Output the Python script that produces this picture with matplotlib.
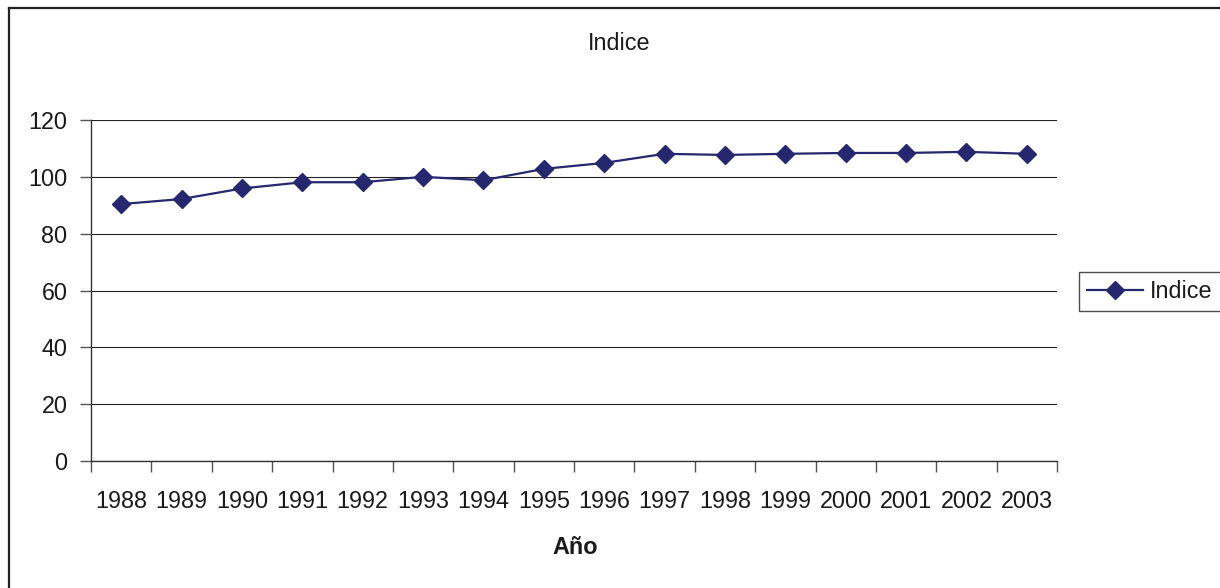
import matplotlib
matplotlib.use("Agg")
import matplotlib.pyplot as plt
from matplotlib.lines import Line2D

years = ["1988", "1989", "1990", "1991", "1992", "1993", "1994", "1995",
         "1996", "1997", "1998", "1999", "2000", "2001", "2002", "2003"]
indice = [90.4, 92.2, 95.9, 98.1, 98.1, 100.0, 98.8, 102.8,
          104.9, 108.1, 107.7, 108.1, 108.4, 108.4, 108.8, 108.1]

plt.rcParams['font.family'] = ['Liberation Sans', 'DejaVu Sans']
FS = 16.8

W, H = 1220, 588
fig = plt.figure(figsize=(W / 100, H / 100), dpi=100)
ax = fig.add_axes([91 / W, 1 - 461 / H, (1057 - 91) / W, (461 - 120) / H])

line_color = '#25286E'
text_color = '#1a1a1a'
x = list(range(len(years)))
ax.plot(x, indice, color=line_color, linewidth=1.6, marker='D',
        markersize=9.5, markerfacecolor=line_color, markeredgecolor=line_color,
        label='Indice', zorder=3)

ax.set_xlim(-0.5, len(years) - 0.5)
ax.set_ylim(0, 120)
ax.set_yticks(range(0, 121, 20))
ax.yaxis.grid(True, color='#222222', linewidth=0.8)
ax.set_axisbelow(True)

# category axis: labels at centres, tick marks at boundaries
ax.set_xticks(x)
ax.set_xticklabels(years)
ax.set_xticks([i - 0.5 for i in range(len(years) + 1)], minor=True)
ax.tick_params(axis='x', which='major', length=0, pad=21, labelsize=FS,
               labelcolor=text_color)
ax.tick_params(axis='x', which='minor', length=8, width=1, color='#555555',
               direction='out')
ax.tick_params(axis='y', which='major', length=8, width=1, color='#555555',
               pad=9, labelsize=FS, labelcolor=text_color)

for side in ('top', 'right'):
    ax.spines[side].set_visible(False)
for side in ('left', 'bottom'):
    ax.spines[side].set_color('#333333')
    ax.spines[side].set_linewidth(1.0)

fig.text(619 / W, 1 - 43 / H, 'Indice', ha='center', va='center',
         fontsize=FS, color=text_color)
fig.text(575 / W, 1 - 548 / H, 'Año', ha='center', va='center',
         fontsize=FS, fontweight='bold', color=text_color)

handle = Line2D([], [], color=line_color, linewidth=1.6, marker='D',
                markersize=9.5, markerfacecolor=line_color,
                markeredgecolor=line_color)
leg = fig.legend([handle], ['Indice'], loc='center left',
                 bbox_to_anchor=(1079 / W, 1 - 291.5 / H),
                 bbox_transform=fig.transFigure, borderaxespad=0,
                 fancybox=False, shadow=False, frameon=True,
                 fontsize=FS, handlelength=2.4, handletextpad=0.3,
                 borderpad=0.35)
leg.get_frame().set_edgecolor('#222222')
leg.get_frame().set_linewidth(1.0)
for t in leg.get_texts():
    t.set_color(text_color)

# outer chart frame (left and top edges visible)
fig.add_artist(Line2D([9 / W, 9 / W], [0, 1 - 8 / H], transform=fig.transFigure,
                      color='#222222', linewidth=1.6))
fig.add_artist(Line2D([9 / W, 1], [1 - 8 / H, 1 - 8 / H], transform=fig.transFigure,
                      color='#222222', linewidth=1.6))

fig.savefig('out.png', dpi=100)
